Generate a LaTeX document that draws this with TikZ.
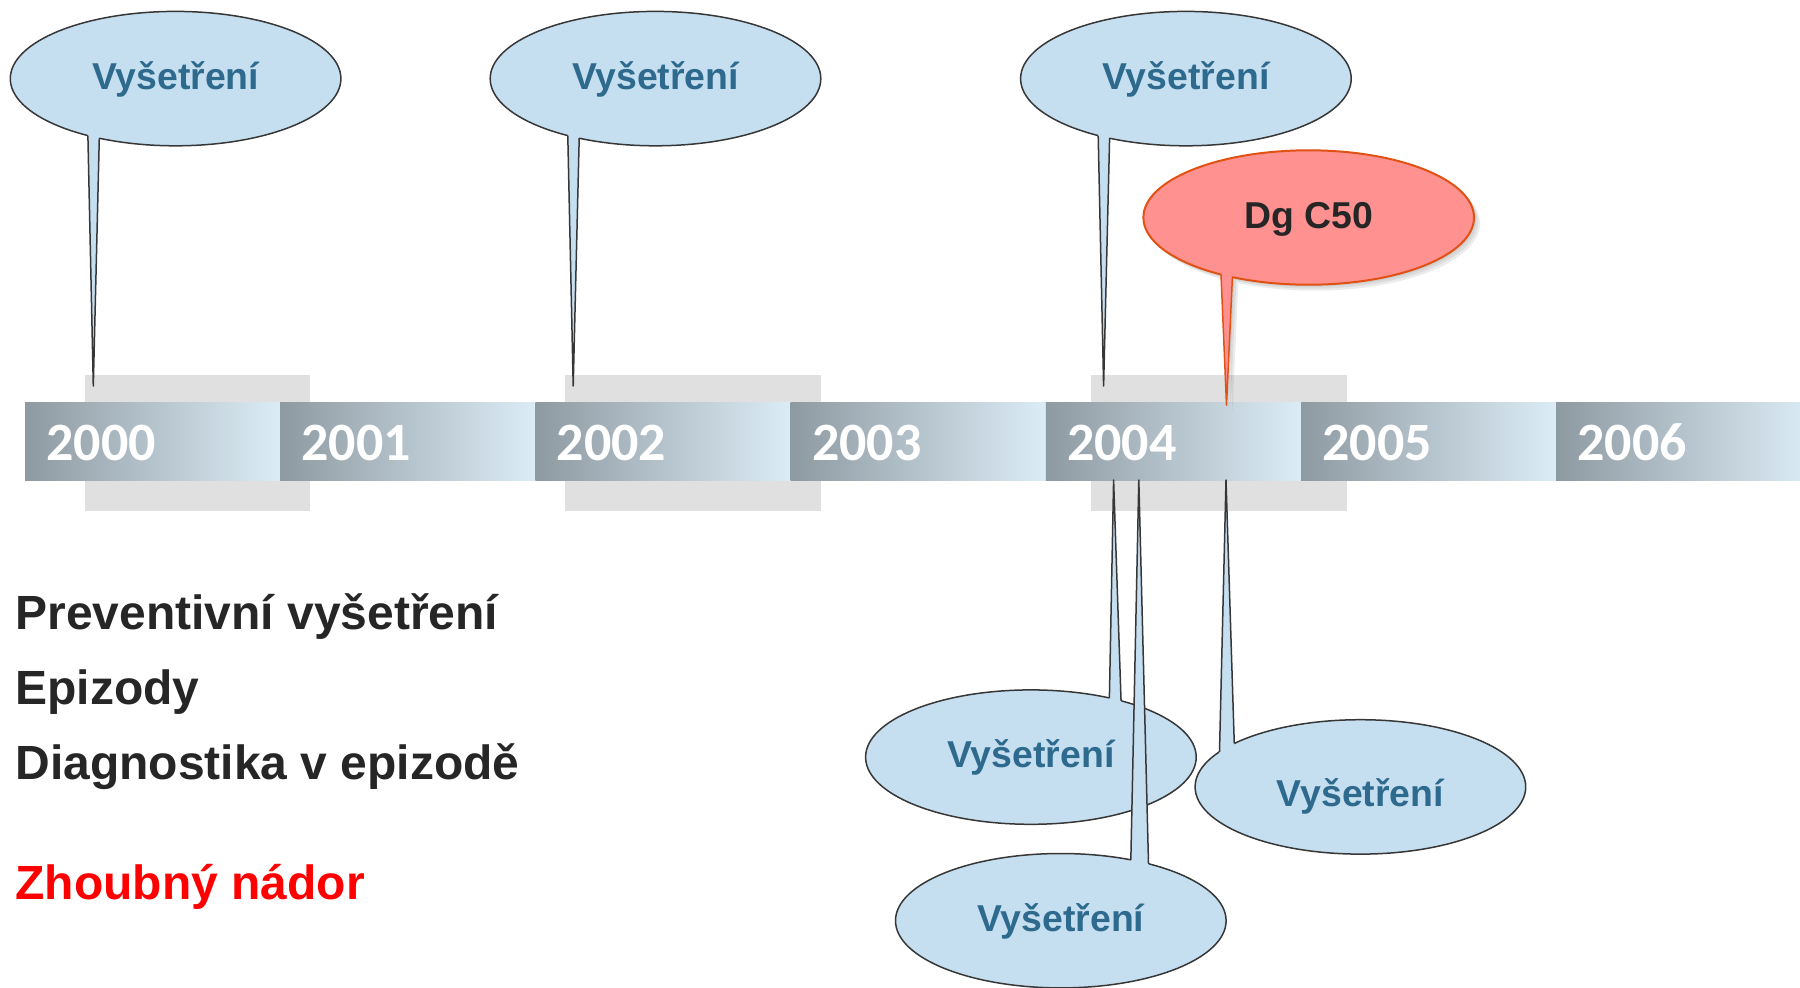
\documentclass[tikz,border=0pt]{standalone}
\usepackage{fontspec}
\setmainfont{Liberation Sans}
\newfontfamily\yearfont{Carlito}
\usetikzlibrary{shapes.geometric,calc,shadows}

\definecolor{bubblefill}{RGB}{197,223,240}
\definecolor{bubbleline}{RGB}{55,55,55}
\definecolor{bubbletext}{RGB}{46,106,142}
\definecolor{dgfill}{RGB}{255,146,144}
\definecolor{dgline}{RGB}{224,82,20}
\definecolor{barleft}{RGB}{142,154,162}
\definecolor{barright}{RGB}{220,236,246}
\definecolor{hilite}{RGB}{224,224,224}
\definecolor{darktext}{RGB}{38,38,38}

\newcommand{\calltail}[5]{
	\fill[#5fill] ($(#1.#2)!-3pt!(#4)$) -- (#4) -- ($(#1.#3)!-3pt!(#4)$) -- cycle;
	\draw[#5line, line width=0.75pt, line join=round] (#1.#2) -- (#4) -- (#1.#3);
}

\begin{document}
\begin{tikzpicture}[x=0.5pt, y=-0.5pt,
	bubble/.style={ellipse, draw=bubbleline, fill=bubblefill, line width=0.75pt, minimum width=165.3pt, minimum height=67.2pt, inner sep=0pt, outer sep=0pt, text=bubbletext, font=\bfseries\fontsize{18.7}{20}\selectfont, text height=10.7pt, text depth=0pt},
	dgshade/.style={drop shadow={shadow xshift=#1, shadow yshift=-#1, fill=black!60, opacity=0.12}},
	dgbubble/.style={bubble, draw=dgline, fill=dgfill, text=darktext, line width=1pt, dgshade=1pt, dgshade=2pt, dgshade=3pt},
	yeartext/.style={anchor=west, inner sep=0pt, text=white, font=\yearfont\bfseries\fontsize{27}{30}\selectfont},
	legendtext/.style={anchor=base west, inner sep=0pt, text=darktext, font=\bfseries\fontsize{24}{28}\selectfont}]
	\useasboundingbox (0,0) rectangle (1800,987);

	\fill[hilite] (85,375) rectangle (310,511);
	\fill[hilite] (565,375) rectangle (821,511);
	\fill[hilite] (1091,375) rectangle (1347,511);

	\foreach \yr [count=\i from 0] in {2000,...,2006} {
		\shade[left color=barleft, right color=barright] (25+255.2*\i,402) rectangle ++(255.2,78);
		\node[yeartext] (y\yr) at (46+255.2*\i,442.5) {\yr};
	}

	\foreach \n/\x in {1/175.6,2/655.5,3/1185.9} {
		\node[bubble] (e\n) at (\x,78.6) {Vyšetření};
		\coordinate (p\n) at (\x-82.3,386);
		\calltail{e\n}{-147}{-142}{p\n}{bubble}
	}

	\node[dgbubble] (dg) at (1308.7,217.5) {Dg C50};
	\coordinate (p4) at (1226.5,405);
	\foreach \s in {1,2,3}
		\fill[black!60, opacity=0.12] ([xshift=\s pt, yshift=-\s pt]dg.-147) -- ([xshift=\s pt, yshift=-\s pt]p4) -- ([xshift=\s pt, yshift=-\s pt]dg.-142) -- cycle;
	\calltail{dg}{-147}{-142}{p4}{dg}

	\node[bubble] (b1) at (1030.9,757.1) {Vyšetření};
	\node[bubble] (b2) at (1360.4,786.9) {\raisebox{-4.5pt}{Vyšetření}};
	\node[bubble] (b3) at (1060.8,920.7) {Vyšetření};
	\coordinate (q1) at (1113.6,480);
	\coordinate (q2) at (1226,480);
	\coordinate (q3) at (1138.8,480);
	\calltail{b1}{37.7}{32.7}{q1}{bubble}
	\calltail{b2}{166.1}{161}{q2}{bubble}
	\calltail{b3}{41.6}{33.2}{q3}{bubble}

	\node[legendtext] (l1) at (15,629) {Preventivní vyšetření};
	\node[legendtext] (l2) at (15,704) {Epizody};
	\node[legendtext] (l3) at (15,779) {Diagnostika v epizodě};
	\node[legendtext, text=red] (l4) at (15,899) {Zhoubný nádor};
\end{tikzpicture}
\end{document}
